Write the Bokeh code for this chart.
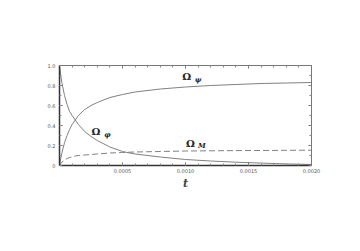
from bokeh.plotting import figure
from bokeh.models import FixedTicker, LinearAxis, NumeralTickFormatter, Range1d, CustomLabelingPolicy
from bokeh.core.properties import value
from bokeh.embed import file_html
from bokeh.resources import INLINE

# data
t = [0, 0.00001, 0.00002, 0.00004, 0.00006, 0.00008, 0.0001, 0.000125, 0.00015, 0.0002,
     0.00025, 0.0003, 0.0004, 0.0005, 0.0006, 0.0008, 0.001, 0.0012, 0.0014, 0.0016, 0.0018, 0.002]
omega_phi = [1.0, 0.9, 0.82, 0.7, 0.61, 0.54, 0.5, 0.455, 0.41, 0.34,
             0.29, 0.25, 0.185, 0.14, 0.115, 0.085, 0.06, 0.045, 0.033, 0.024, 0.016, 0.01]
omega_psi = [0.0, 0.07, 0.13, 0.23, 0.3, 0.36, 0.41, 0.455, 0.5, 0.56,
             0.6, 0.63, 0.68, 0.71, 0.735, 0.765, 0.785, 0.8, 0.81, 0.82, 0.825, 0.83]
omega_m = [0.0, 0.02, 0.035, 0.055, 0.07, 0.08, 0.085, 0.095, 0.1, 0.105,
           0.11, 0.115, 0.125, 0.13, 0.135, 0.14, 0.145, 0.147, 0.149, 0.15, 0.152, 0.153]
x_ticks = [0.0005, 0.001, 0.0015, 0.002]
y_ticks = [0, 0.2, 0.4, 0.6, 0.8, 1.0]

p = figure(width=340, height=235, output_backend="svg", toolbar_location=None,
           x_range=Range1d(0, 0.002), y_range=Range1d(0, 1.0),
           min_border_left=59, min_border_top=65, min_border_right=29, min_border_bottom=70)
p.frame_width = 252
p.frame_height = 100
p.background_fill_color = "white"
p.border_fill_color = "white"
p.outline_line_color = "#444444"
p.outline_line_width = 1
p.grid.visible = False

curve_color = "#808080"
p.line(t, omega_phi, line_color=curve_color, line_width=1)
p.line(t, omega_psi, line_color=curve_color, line_width=1)
p.line(t, omega_m, line_color=curve_color, line_width=1, line_dash="6 3")

xt = FixedTicker(ticks=x_ticks, minor_ticks=[i * 0.0001 for i in range(21)])
yt = FixedTicker(ticks=y_ticks, minor_ticks=[i * 0.1 for i in range(11)])

def style(ax, labels=True):
    ax.axis_line_color = "#333333"
    ax.axis_line_width = 1.5
    ax.major_tick_in = 3
    ax.major_tick_out = 0
    ax.minor_tick_in = 2
    ax.minor_tick_out = 0
    ax.major_tick_line_color = "#666666"
    ax.minor_tick_line_color = "#888888"
    ax.major_label_text_font_size = "5px"
    ax.major_label_text_color = "#555555"
    ax.major_label_text_font = "DejaVu Sans"
    if not labels:
        ax.major_label_policy = CustomLabelingPolicy(
            code="for (const i of Array.from(indices)) { indices.unset(i) }; return indices")
        ax.major_label_standoff = 0
        ax.axis_line_width = 1
        ax.axis_line_color = "#777777"

p.xaxis.ticker = xt
p.yaxis.ticker = yt
p.xaxis.formatter = NumeralTickFormatter(format="0.0000")
p.yaxis.formatter = NumeralTickFormatter(format="0.0")
p.yaxis.major_label_overrides = {0: "0"}
style(p.xaxis[0])
style(p.yaxis[0])
p.xaxis.major_label_standoff = 3
p.yaxis.major_label_standoff = 4
p.xaxis.axis_label = "t"
p.xaxis.axis_label_text_font = "DejaVu Serif"
p.xaxis.axis_label_text_font_style = "bold italic"
p.xaxis.axis_label_text_font_size = "11px"
p.xaxis.axis_label_standoff = 1

top = LinearAxis(ticker=xt)
right = LinearAxis(ticker=yt)
style(top, labels=False)
style(right, labels=False)
p.add_layout(top, "above")
p.add_layout(right, "right")

# labels
lab_x = [0.00101, 0.00029, 0.00104]
lab_y = [0.89, 0.34, 0.22]
sub_x = [0.00110, 0.00038, 0.00113]
sub_y = [0.865, 0.315, 0.20]
subs = ["ψ", "φ", "M"]
p.text(lab_x, lab_y, text=["Ω", "Ω", "Ω"], text_font=value("DejaVu Serif"),
       text_font_style="bold", text_font_size="10px", text_color="#222222",
       text_align="center", text_baseline="middle")
p.text(sub_x, sub_y, text=subs, text_font=value("DejaVu Serif"),
       text_font_style="bold italic", text_font_size="7px", text_color="#222222",
       text_align="center", text_baseline="middle")

open("out.html", "w").write(file_html(p, INLINE))
